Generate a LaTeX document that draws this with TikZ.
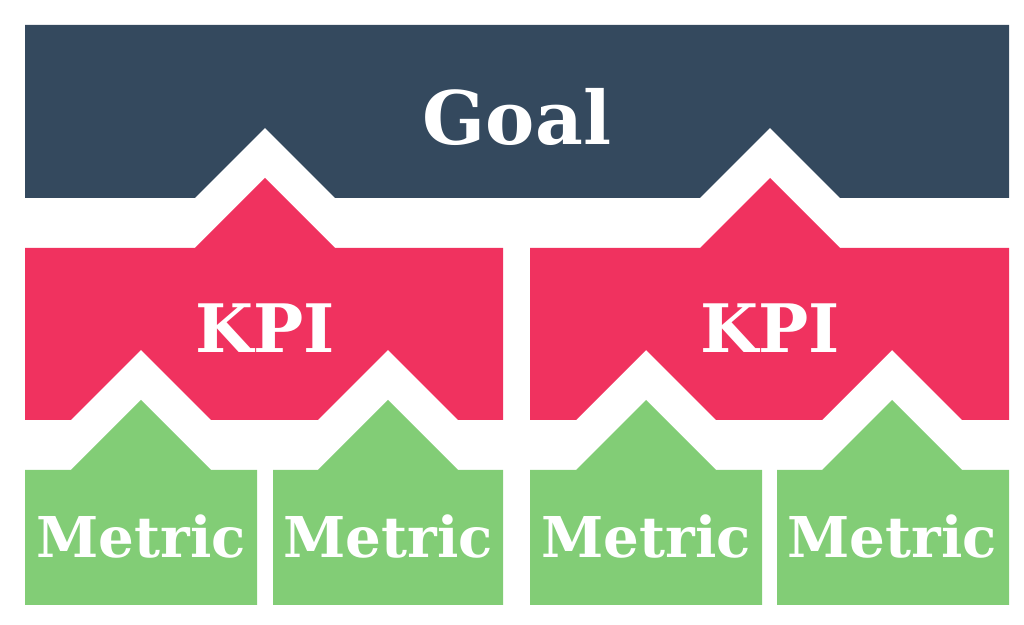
\documentclass[tikz,border=0pt]{standalone}
\usepackage{fontspec}
\setmainfont{DejaVu Serif}
\definecolor{goalc}{HTML}{34495E}
\definecolor{kpic}{HTML}{F0325F}
\definecolor{metc}{HTML}{82CD76}
\begin{document}
\begin{tikzpicture}[x=0.01cm,y=-0.01cm]
\tikzstyle{lbl}=[text=white,font=\bfseries]
\useasboundingbox (0,0) rectangle (1024,625);
% goal with two notches
\fill[goalc] (25,25) -- (1009,25) -- (1009,198) -- (840,198) -- (770,128) -- (700,198)
  -- (335,198) -- (265,128) -- (195,198) -- (25,198) -- cycle;
% kpi blocks: roof on top, notches below
\foreach \l/\r/\c/\ma/\mb in {25/503/265/141/388, 530/1009/770/646/892}{
  \fill[kpic] (\l,248) -- (\c-70,248) -- (\c,178) -- (\c+70,248) -- (\r,248) -- (\r,420)
    -- (\mb+70,420) -- (\mb,350) -- (\mb-70,420) -- (\ma+70,420) -- (\ma,350) -- (\ma-70,420)
    -- (\l,420) -- cycle;
}
% metric blocks
\foreach \l/\r/\c in {25/257/141, 273/503/388, 530/762/646, 777/1009/892}{
  \fill[metc] (\l,470) -- (\c-70,470) -- (\c,400) -- (\c+70,470) -- (\r,470) -- (\r,605)
    -- (\l,605) -- cycle;
}
\node (goal) [lbl,font=\bfseries\fontsize{21}{24}\selectfont] at (517,117) {Goal};
\node (kpi1) [lbl,font=\bfseries\fontsize{19}{22}\selectfont] at (265,328) {KPI};
\node (kpi2) [lbl,font=\bfseries\fontsize{19}{22}\selectfont] at (770,328) {KPI};
\node (m1) [lbl,font=\bfseries\fontsize{16}{19}\selectfont] at (141,537) {Metric};
\node (m2) [lbl,font=\bfseries\fontsize{16}{19}\selectfont] at (388,537) {Metric};
\node (m3) [lbl,font=\bfseries\fontsize{16}{19}\selectfont] at (646,537) {Metric};
\node (m4) [lbl,font=\bfseries\fontsize{16}{19}\selectfont] at (892,537) {Metric};
\end{tikzpicture}
\end{document}
